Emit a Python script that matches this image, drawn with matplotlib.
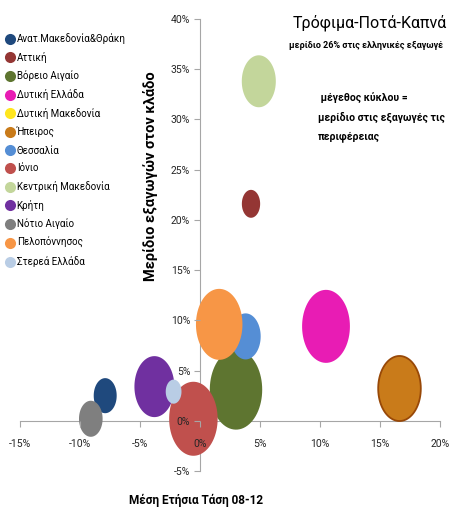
import matplotlib
matplotlib.use("Agg")
import matplotlib.pyplot as plt
from matplotlib.path import Path
from matplotlib.lines import Line2D
import numpy as np

plt.rcParams['font.family'] = ['Roboto', 'DejaVu Sans']

# περιφέρειες
regions = ['Ανατ.Μακεδονία&Θράκη', 'Αττική', 'Βόρειο Αιγαίο', 'Δυτική Ελλάδα',
           'Δυτική Μακεδονία', 'Ήπειρος', 'Θεσσαλία', 'Ιόνιο',
           'Κεντρική Μακεδονία', 'Κρήτη', 'Νότιο Αιγαίο', 'Πελοπόννησος',
           'Στερεά Ελλάδα']
# μέση ετήσια τάση 08-12 (%)
trend = [-7.9, 4.25, 3.0, 10.5, np.nan, 16.6, 3.8, -0.55, 4.9, -3.8, -9.1, 1.6, -2.2]
# μερίδιο εξαγωγών στον κλάδο (%)
share = [2.5, 21.6, 3.1, 9.4, np.nan, 3.3, 8.4, 0.2, 33.8, 3.4, 0.2, 9.6, 2.9]
# μέγεθος κύκλου (σχετικό)
bubble = [12.3, 7.8, 64, 53.3, 0, 42.3, 21.2, 54.8, 27, 37.2, 13, 50.4, 5.8]

colors = ['#1F497D', '#943634', '#5E7530', '#E81CB4', '#FFE61E', '#C97B1A',
          '#558ED5', '#C0504D', '#C3D69B', '#7030A0', '#7F7F7F', '#F79646',
          '#B9CDE5']

xticks = [-15, -10, -5, 0, 5, 10, 15, 20]
yticks = [-5, 0, 5, 10, 15, 20, 25, 30, 35, 40]

# excel bubbles look stretched vertically in the picture
t = np.linspace(0, 2 * np.pi, 80)
ell = Path(np.column_stack([0.655 * np.cos(t), np.sin(t)]), closed=True)

fig = plt.figure(figsize=(4.49, 5.09), dpi=100)
ax = fig.add_axes([20 / 449, 38 / 509, 420 / 449, 452 / 509])

for i in range(len(regions)):
    if bubble[i] <= 0:
        continue
    ec = '#984807' if regions[i] == 'Ήπειρος' else 'none'
    ax.scatter(trend[i], share[i], s=bubble[i] * 51.84, marker=ell,
               color=colors[i], edgecolors=ec, linewidths=1.3, zorder=1)

ax.set_xlim(-15, 20)
ax.set_ylim(-5, 40)
ax.spines['left'].set_position(('data', 0))
ax.spines['bottom'].set_position(('data', 0))
ax.spines['right'].set_visible(False)
ax.spines['top'].set_visible(False)
for sp in ['left', 'bottom']:
    ax.spines[sp].set_color('#A6A6A6')
    ax.spines[sp].set_zorder(0.5)
ax.set_xticks(xticks)
ax.set_xticklabels([f'{v}%' for v in xticks])
ax.set_yticks(yticks)
ax.set_yticklabels([f'{v}%' for v in yticks])
ax.tick_params(axis='x', direction='out', length=4, pad=9, color='#A6A6A6',
               labelsize=7.5, labelcolor='#262626')
ax.tick_params(axis='y', direction='out', length=4, pad=3, color='#A6A6A6',
               labelsize=7.5, labelcolor='#262626')
ax.patch.set_visible(False)

fig.text(150 / 449, 1 - 176 / 509, 'Μερίδιο εξαγωγών στον κλάδο', rotation=90,
         ha='center', va='center', fontsize=10.5, fontweight='bold')
fig.text(196 / 449, 1 - 500 / 509, 'Μέση Ετήσια Τάση 08-12',
         ha='center', va='center', fontsize=8.5, fontweight='bold')

fig.text(370 / 449, 1 - 23 / 509, 'Τρόφιμα-Ποτά-Καπνά', ha='center', va='center',
         fontsize=11.5)
fig.text(289 / 449, 1 - 46 / 509, 'μερίδιο 26% στις ελληνικές εξαγωγέ',
         ha='left', va='center', fontsize=6.5, fontweight='bold')
fig.text(318 / 449, 1 - 92 / 509,
         ' μέγεθος κύκλου =\nμερίδιο στις εξαγωγές τις\nπεριφέρειας',
         ha='left', va='top', fontsize=7.5, fontweight='bold', linespacing=2.0)

handles = [Line2D([], [], ls='none', marker='o', markersize=8, color=c,
                  markeredgecolor='none') for c in colors]
fig.legend(handles, regions, loc='upper left',
           bbox_to_anchor=(6 / 449, 1 - 33 / 509), frameon=False, fontsize=7,
           handlelength=0.9, handletextpad=0.2, labelspacing=0.8,
           borderaxespad=0, borderpad=0)

fig.savefig('out.png', dpi=100)
